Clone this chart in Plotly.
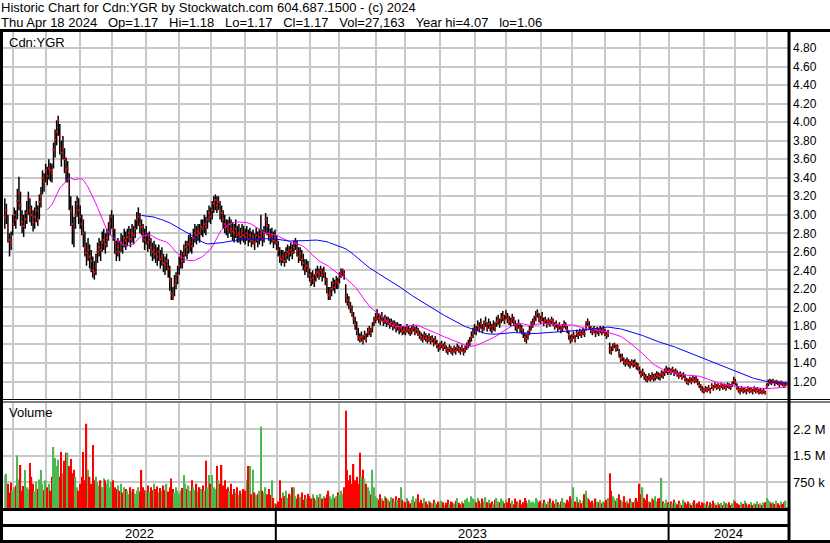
import pandas as pd
import plotly.graph_objects as go

W, H = 830, 543
FONT = "Liberation Sans, Arial, sans-serif"
GRID = "#C8C8C8"
GREEN = "#4DB84D"
RED = "#FF0000"
GREY = "#A8A8A8"

# TSX trading calendar, 25 Apr 2022 .. 18 Apr 2024
HOLIDAYS = [
    "2022-05-23", "2022-07-01", "2022-08-01", "2022-09-05", "2022-10-10",
    "2022-12-26", "2022-12-27", "2023-01-02", "2023-02-20", "2023-04-07",
    "2023-05-22", "2023-07-03", "2023-08-07", "2023-09-04", "2023-10-09",
    "2023-12-25", "2023-12-26", "2024-01-01", "2024-02-19", "2024-03-29",
]

# daily close / high / low in cents, one row per month
close_c = [
    298, 305, 285, 273, 270,
    290, 300, 295, 315, 323, 310, 292, 288, 295, 302, 318, 305, 300, 292, 298, 305, 295, 314, 320, 340, 335,
    348, 342, 350, 348, 345, 370, 381, 390, 402, 385, 367, 372, 360, 348, 350, 330, 305, 290, 284, 300, 312, 305,
    298, 290, 280, 265, 259, 262, 255, 250, 240, 238, 245, 260, 265, 262, 270, 273, 268, 275, 282, 290,
    298, 285, 270, 260, 265, 260, 270, 268, 275, 272, 276, 280, 274, 280, 278, 285, 295, 298, 290, 287, 280, 273,
    278, 270, 273, 265, 260, 262, 258, 255, 260, 252, 255, 248, 245, 250, 242, 230, 215, 212, 225, 229, 235,
    245, 254, 250, 258, 265, 262, 268, 270, 266, 275, 280, 278, 282, 280, 287, 285, 290, 287, 295, 302,
    298, 305, 312, 316, 310, 314, 305, 302, 295, 290, 287, 284, 290, 285, 282, 280, 285, 278, 280, 276, 282, 278,
    276, 280, 274, 278, 272, 275, 270, 278, 273, 276, 280, 274, 278, 295, 288, 280, 276, 278, 272, 275,
    270, 262, 255, 252, 255, 250, 256, 260, 258, 262, 259, 265, 270, 262, 255, 258, 252, 248, 242, 245, 240,
    235, 230, 232, 228, 235, 238, 236, 240, 235, 238, 230, 225, 213, 215, 220, 226, 222, 228, 226,
    232, 237, 240, 236, 212, 208, 204, 200, 195, 188, 182, 175, 168, 166, 168, 164, 170, 166, 173, 176, 172, 178, 185,
    188, 192, 188, 186, 190, 185, 187, 184, 186, 182, 184, 180, 182, 178, 180, 176, 178, 174, 176,
    174, 178, 175, 173, 176, 178, 174, 176, 173, 170, 168, 166, 170, 167, 165, 168, 164, 166, 162, 165, 160, 156,
    158, 160, 157, 159, 155, 153, 156, 154, 152, 155, 153, 157, 155, 153, 156, 152, 155, 158, 160, 162, 168, 172,
    176, 174, 180, 178, 182, 176, 180, 184, 178, 182, 179, 176, 180, 178, 184, 186, 182, 188, 190, 186,
    192, 188, 186, 184, 188, 185, 180, 178, 182, 178, 176, 172, 168, 166, 170, 175, 180, 183, 186, 190, 194, 188,
    186, 190, 184, 186, 182, 185, 183, 186, 184, 180, 182, 178, 180, 176, 178, 182, 180, 176, 170, 165,
    167, 170, 166, 172, 170, 173, 171, 174, 172, 180, 184, 180, 176, 174, 176, 172, 175, 173, 176, 174, 176,
    173, 170, 172, 155, 152, 157, 160, 156, 157, 150, 145, 146, 142, 140, 142, 140, 138, 141, 139, 140, 137, 136,
    132, 128, 130, 126, 124, 122, 125, 123, 126, 124, 125, 127, 126, 125, 128, 127, 130, 133, 131,
    132, 130, 133, 129, 131, 128, 126, 128, 125, 127, 123, 120, 119, 122, 120, 123, 121, 122, 119, 116, 113, 111,
    110, 112, 111, 113, 110, 115, 113, 116, 114, 115, 113, 116, 114, 115, 113, 116, 115, 114, 117, 121,
    119, 114, 111, 109, 112, 110, 111, 109, 112, 110, 111, 109, 112, 110, 111, 109, 110, 108, 110, 107,
    115, 118, 120, 119, 121, 118, 120, 119, 117, 119, 118, 116, 118, 117,
]
high_c = [
    318, 312, 300, 280, 282,
    300, 308, 305, 328, 341, 325, 305, 300, 305, 315, 325, 318, 310, 305, 308, 315, 310, 322, 330, 348, 345,
    355, 352, 360, 356, 355, 378, 392, 402, 407, 398, 380, 385, 372, 362, 358, 345, 320, 310, 298, 315, 320, 318,
    310, 300, 295, 282, 270, 275, 268, 262, 255, 250, 258, 270, 275, 272, 282, 285, 280, 285, 292, 300,
    305, 300, 285, 272, 275, 272, 280, 278, 285, 282, 285, 288, 285, 290, 288, 295, 303, 308, 302, 295, 290, 285,
    288, 280, 282, 275, 270, 272, 268, 265, 268, 262, 265, 258, 255, 258, 252, 245, 232, 222, 235, 238, 245,
    255, 262, 260, 268, 272, 272, 278, 280, 276, 285, 290, 288, 290, 290, 295, 295, 300, 298, 305, 310,
    308, 315, 320, 322, 320, 320, 315, 310, 305, 300, 295, 295, 298, 295, 292, 290, 295, 288, 290, 286, 290, 288,
    285, 288, 284, 286, 282, 284, 280, 286, 282, 285, 300, 284, 288, 302, 298, 290, 285, 286, 282, 284,
    278, 272, 265, 262, 262, 260, 265, 268, 266, 270, 268, 272, 275, 272, 265, 265, 262, 258, 252, 252, 250,
    242, 238, 240, 236, 242, 245, 242, 245, 242, 244, 238, 232, 222, 222, 228, 232, 230, 234, 232,
    238, 242, 242, 240, 225, 215, 212, 206, 202, 195, 190, 185, 178, 172, 174, 170, 175, 172, 178, 180, 178, 184, 190,
    194, 198, 194, 192, 195, 190, 192, 190, 190, 188, 188, 186, 186, 184, 184, 182, 182, 180, 180,
    179, 182, 180, 178, 180, 182, 179, 180, 178, 175, 173, 171, 174, 172, 170, 172, 169, 170, 167, 169, 165, 161,
    162, 164, 161, 163, 159, 157, 160, 158, 156, 159, 157, 161, 159, 157, 160, 156, 159, 162, 165, 168, 174, 178,
    182, 180, 186, 184, 188, 182, 186, 190, 184, 188, 185, 182, 186, 184, 190, 192, 188, 194, 196, 192,
    197, 194, 191, 189, 193, 190, 186, 183, 187, 183, 181, 177, 173, 171, 175, 180, 185, 188, 191, 196, 198, 194,
    191, 195, 189, 190, 187, 189, 187, 190, 188, 184, 186, 182, 184, 180, 182, 186, 184, 180, 175, 170,
    171, 174, 170, 176, 174, 177, 175, 178, 176, 185, 188, 185, 180, 178, 180, 176, 179, 177, 180, 178, 180,
    177, 174, 176, 162, 158, 161, 162, 160, 160, 155, 150, 150, 146, 144, 146, 144, 142, 144, 143, 144, 141, 140,
    136, 132, 134, 130, 128, 126, 129, 127, 130, 128, 129, 131, 130, 129, 132, 131, 134, 137, 135,
    135, 134, 136, 133, 134, 132, 130, 131, 129, 130, 127, 124, 123, 125, 124, 126, 125, 126, 123, 120, 117, 115,
    113, 115, 114, 116, 113, 118, 116, 119, 117, 118, 116, 119, 117, 118, 116, 119, 118, 117, 120, 125,
    123, 118, 115, 113, 115, 113, 114, 112, 115, 113, 114, 112, 115, 113, 114, 112, 113, 111, 113, 110,
    118, 122, 123, 122, 123, 121, 122, 121, 120, 121, 120, 119, 120, 118,
]
low_c = [
    285, 290, 270, 255, 262,
    278, 288, 285, 295, 305, 288, 280, 276, 285, 290, 300, 292, 288, 282, 285, 292, 288, 295, 308, 322, 325,
    335, 332, 338, 336, 335, 350, 362, 375, 385, 365, 352, 360, 345, 335, 335, 305, 288, 268, 265, 285, 298, 290,
    285, 278, 265, 255, 245, 250, 242, 238, 232, 230, 235, 248, 255, 250, 260, 262, 258, 265, 272, 278,
    285, 272, 258, 250, 255, 250, 260, 258, 265, 262, 266, 270, 265, 270, 268, 275, 284, 288, 280, 278, 270, 262,
    268, 260, 263, 255, 250, 252, 248, 245, 250, 242, 245, 238, 235, 240, 232, 218, 208, 208, 212, 220, 225,
    235, 242, 242, 248, 255, 252, 258, 260, 258, 265, 270, 268, 272, 270, 278, 276, 280, 278, 285, 292,
    290, 295, 302, 305, 302, 305, 295, 292, 285, 280, 278, 275, 280, 276, 272, 270, 275, 270, 270, 268, 272, 270,
    268, 272, 266, 270, 265, 268, 262, 270, 265, 268, 272, 266, 270, 280, 278, 272, 268, 270, 264, 268,
    262, 255, 248, 245, 248, 244, 248, 252, 250, 255, 252, 258, 262, 255, 248, 250, 245, 240, 235, 238, 232,
    228, 223, 225, 222, 228, 232, 230, 233, 228, 232, 224, 215, 208, 208, 212, 218, 215, 220, 220,
    226, 232, 234, 230, 205, 202, 198, 194, 190, 182, 176, 170, 164, 162, 163, 160, 165, 162, 168, 170, 168, 173, 180,
    183, 186, 183, 181, 185, 180, 182, 179, 181, 177, 179, 175, 177, 173, 175, 171, 173, 170, 171,
    170, 173, 171, 169, 171, 174, 170, 172, 169, 166, 164, 162, 165, 163, 161, 163, 160, 162, 158, 160, 156, 152,
    154, 156, 153, 155, 151, 149, 152, 150, 148, 151, 149, 153, 151, 149, 152, 148, 151, 154, 156, 158, 163, 167,
    171, 170, 175, 173, 177, 172, 175, 179, 174, 177, 174, 172, 175, 174, 179, 181, 178, 183, 185, 182,
    187, 183, 181, 179, 183, 180, 175, 173, 177, 173, 171, 167, 163, 161, 165, 170, 175, 178, 181, 185, 189, 184,
    182, 185, 180, 182, 178, 181, 179, 182, 180, 176, 178, 174, 176, 172, 174, 178, 176, 172, 165, 161,
    163, 166, 162, 168, 166, 169, 167, 170, 168, 175, 180, 176, 172, 170, 172, 168, 171, 169, 172, 170, 172,
    169, 166, 168, 150, 149, 153, 156, 152, 153, 146, 141, 142, 138, 136, 138, 136, 134, 137, 135, 136, 133, 132,
    128, 124, 126, 122, 120, 119, 121, 120, 122, 120, 121, 123, 122, 121, 124, 123, 126, 129, 127,
    129, 127, 130, 126, 128, 125, 123, 125, 122, 124, 120, 117, 116, 119, 117, 120, 118, 119, 116, 113, 110, 108,
    107, 109, 108, 110, 107, 112, 110, 113, 111, 112, 110, 113, 111, 112, 110, 113, 112, 111, 114, 117,
    116, 111, 108, 106, 109, 107, 108, 106, 109, 107, 108, 106, 109, 107, 108, 106, 107, 106, 107, 106,
    112, 115, 117, 116, 118, 115, 117, 116, 114, 116, 115, 113, 115, 117,
]
# daily volume, thousands of shares
volume_k = [
    950, 980, 700, 450, 730,
    500, 600, 650, 1500, 820, 1230, 500, 640, 1090, 600, 550, 1290, 900, 700, 480, 760, 560, 820, 1090, 700, 520,
    800, 600, 700, 500, 900, 1740, 1430, 1200, 1380, 900, 1600, 1000, 1350, 1580, 1580, 1200, 1400, 1000, 1100, 900, 600, 500,
    700, 900, 1600, 800, 2400, 1100, 900, 700, 1800, 800, 900, 750, 650, 800, 600, 850, 800, 700, 820, 600,
    750, 800, 600, 550, 650, 500, 700, 450, 600, 550, 500, 400, 600, 480, 550, 420, 500, 600, 480, 1090, 600, 520,
    500, 650, 480, 600, 520, 700, 550, 620, 450, 580, 500, 650, 520, 700, 480, 600, 850, 550, 450, 600, 500,
    420, 500, 580, 950, 700, 550, 650, 500, 800, 600, 520, 700, 480, 600, 550, 650, 500, 1350, 600, 950,
    700, 950, 600, 550, 1200, 800, 700, 1230, 650, 800, 550, 600, 500, 700, 400, 550, 450, 600, 380, 500, 420, 550,
    500, 800, 1200, 1200, 400, 1100, 450, 380, 420, 500, 2320, 500, 450, 600, 400, 550, 380, 800, 300, 150,
    120, 200, 800, 300, 450, 350, 500, 300, 420, 380, 600, 600, 350, 280, 400, 320, 450, 250, 380, 300, 420,
    350, 280, 400, 300, 250, 380, 320, 420, 280, 350, 300, 400, 500, 350, 280, 400, 300, 350, 450,
    380, 500, 420, 600, 2770, 1100, 800, 950, 700, 1260, 800, 900, 700, 1580, 900, 1100, 850, 700, 600, 500, 400, 1100, 600,
    350, 300, 250, 400, 280, 220, 350, 300, 250, 200, 320, 280, 200, 350, 250, 300, 600, 250, 200,
    180, 300, 220, 150, 250, 350, 200, 280, 400, 180, 250, 150, 300, 200, 120, 220, 180, 150, 250, 180, 120, 200,
    150, 220, 180, 100, 160, 250, 120, 200, 180, 140, 220, 300, 160, 120, 200, 150, 250, 300, 200, 180, 350, 280,
    250, 180, 300, 220, 150, 280, 200, 320, 180, 250, 150, 200, 120, 250, 300, 200, 180, 280, 220, 150,
    250, 180, 300, 150, 220, 120, 280, 200, 160, 250, 120, 180, 300, 220, 150, 250, 180, 200, 150, 300, 250, 180,
    220, 150, 250, 180, 120, 200, 280, 160, 220, 140, 260, 180, 120, 200, 300, 180, 150, 250, 200, 350,
    280, 600, 200, 320, 180, 250, 150, 220, 400, 500, 300, 250, 180, 220, 150, 280, 200, 180, 250, 150, 200,
    180, 250, 300, 1000, 500, 350, 280, 220, 300, 400, 250, 200, 350, 180, 220, 150, 280, 200, 180, 250, 300, 200,
    700, 400, 600, 300, 250, 400, 200, 180, 300, 250, 350, 200, 280, 300, 870, 200, 150, 250, 180,
    120, 200, 150, 250, 180, 120, 220, 150, 100, 250, 180, 120, 200, 150, 100, 180, 230, 120, 150, 200, 100, 180,
    150, 120, 200, 100, 180, 130, 220, 150, 100, 180, 120, 160, 100, 200, 150, 120, 180, 100, 150, 250,
    200, 150, 120, 100, 180, 130, 220, 150, 100, 120, 180, 100, 150, 130, 200, 120, 150, 100, 170, 180,
    300, 250, 200, 150, 180, 130, 220, 150, 100, 200, 130, 180, 220, 27,
]

price_ticks = [1.2, 1.4, 1.6, 1.8, 2.0, 2.2, 2.4, 2.6, 2.8, 3.0, 3.2, 3.4, 3.6, 3.8, 4.0, 4.2, 4.4, 4.6, 4.8]
vol_ticks = [750_000, 1_500_000, 2_250_000]
vol_labels = ["750 k", "1.5 M", "2.2 M"]
MA_FAST, MA_SLOW = 28, 88

days = pd.bdate_range("2022-04-25", "2024-04-18")
days = days[~days.isin(pd.to_datetime(HOLIDAYS))]
n = len(days)
assert n == len(close_c) == len(high_c) == len(low_c) == len(volume_k), (
    n, len(close_c), len(high_c), len(low_c), len(volume_k))

close = [c / 100 for c in close_c]
high = [c / 100 for c in high_c]
low = [c / 100 for c in low_c]
volume = [v * 1000 for v in volume_k]
idx = list(range(n))

month_starts = [i for i in idx[1:] if days[i].month != days[i - 1].month]
year_starts = [i for i in idx[1:] if days[i].year != days[i - 1].year]

vol_colors = [GREY] + [
    GREEN if close[i] > close[i - 1] else RED if close[i] < close[i - 1] else GREY
    for i in idx[1:]
]
ma_fast = pd.Series(close).rolling(MA_FAST).mean()
ma_slow = pd.Series(close).rolling(MA_SLOW).mean()

bar_x, bar_y = [], []
for i in idx:
    bar_x += [i, i, None]
    bar_y += [low[i], high[i], None]

X0, X1 = -1.15, 499.15


def py(p):
    return 1 - p / H


fig = go.Figure()
fig.add_trace(go.Scatter(x=bar_x, y=bar_y, mode="lines",
                         line={"color": "black", "width": 1.5}, hoverinfo="skip"))
fig.add_trace(go.Scatter(x=idx, y=close, mode="markers",
                         marker={"symbol": "square", "size": 2, "color": RED, "line": {"width": 0}}))
fig.add_trace(go.Scatter(x=idx, y=ma_fast, mode="lines", line={"color": "#FF00FF", "width": 1}))
fig.add_trace(go.Scatter(x=idx, y=ma_slow, mode="lines", line={"color": "#0000FF", "width": 1}))
fig.add_trace(go.Bar(x=idx, y=volume, marker={"color": vol_colors, "line": {"width": 0}},
                     xaxis="x2", yaxis="y2"))

xgrid = dict(range=[X0, X1], domain=[3 / W, 789 / W], tickvals=month_starts,
             showticklabels=False, ticks="", showgrid=True, gridcolor=GRID, gridwidth=2,
             zeroline=False, showline=False, fixedrange=True)

shapes = []


def hline(ypx, x0, x1, w):
    shapes.append(dict(type="line", xref="paper", yref="paper", x0=x0 / W, x1=x1 / W,
                       y0=py(ypx), y1=py(ypx), line={"color": "black", "width": w}))


def vline(xpx, y0, y1, w):
    shapes.append(dict(type="line", xref="paper", yref="paper", x0=xpx / W, x1=xpx / W,
                       y0=py(y0), y1=py(y1), line={"color": "black", "width": w}))


hline(30.5, 0, 830, 3)
vline(1.5, 29, 543, 3)
vline(789, 29, 543, 3)
hline(399.5, 0, 830, 1.2)
hline(402, 0, 830, 1.2)
hline(509.5, 0, 789, 3)
hline(525.5, 0, 789, 3)
hline(541.5, 0, 830, 3)
for ys in year_starts:
    shapes.append(dict(type="line", xref="x", yref="paper", x0=ys - 0.5, x1=ys - 0.5,
                       y0=py(509), y1=py(541), line={"color": "black", "width": 2}))

edges = [X0] + [ys - 0.5 for ys in year_starts] + [X1]
annotations = []
for k in range(len(edges) - 1):
    annotations.append(dict(text=str(days[0].year + k), x=(edges[k] + edges[k + 1]) / 2, y=py(533.5),
                            xref="x", yref="paper", yanchor="middle", showarrow=False,
                            font={"family": FONT, "size": 13, "color": "black"}))


def label(text, xpx, ypx, size=13):
    annotations.append(dict(text=text, x=xpx / W, y=py(ypx), xref="paper", yref="paper",
                            xanchor="left", yanchor="middle", showarrow=False,
                            font={"family": FONT, "size": size, "color": "black"}))


sp = "\u00a0\u00a0\u00a0"
label("Historic Chart for Cdn:YGR by Stockwatch.com 604.687.1500 - (c) 2024", -1, 7.5)
label(sp.join(["Thu Apr 18 2024", "Op=1.17", "Hi=1.18", "Lo=1.17", "Cl=1.17",
               "Vol=27,163", "Year hi=4.07", "lo=1.06"]), -1, 22.5)
label("Cdn:YGR", 7, 42)
label("Volume", 7, 413)

fig.update_layout(
    width=W, height=H, margin={"l": 0, "r": 0, "t": 0, "b": 0},
    paper_bgcolor="white", plot_bgcolor="white", showlegend=False, bargap=0.15,
    font={"family": FONT, "color": "black"},
    xaxis=dict(xgrid, anchor="y"),
    xaxis2=dict(xgrid, anchor="y2", matches="x"),
    yaxis=dict(domain=[py(399), py(32)], range=[1.011, 4.974], side="right",
               tickvals=price_ticks, ticktext=[f"{v:.2f}" for v in price_ticks],
               ticks="", ticklabelstandoff=3, tickfont={"size": 12, "family": FONT, "color": "black"},
               showgrid=True, gridcolor=GRID, gridwidth=2, zeroline=False, showline=False,
               fixedrange=True),
    yaxis2=dict(domain=[py(508.5), py(402.5)], range=[0, 3.0e6], side="right",
                tickvals=vol_ticks, ticktext=vol_labels,
                ticks="", ticklabelstandoff=3, tickfont={"size": 13, "family": FONT, "color": "black"},
                showgrid=True, gridcolor=GRID, gridwidth=2, zeroline=False, showline=False,
                fixedrange=True),
    shapes=shapes,
    annotations=annotations,
)

# the page's default 8px body margin would push the chart off the window
fig.write_html("out.html", config={"displayModeBar": False},
               post_script="document.body.style.margin='0';")
